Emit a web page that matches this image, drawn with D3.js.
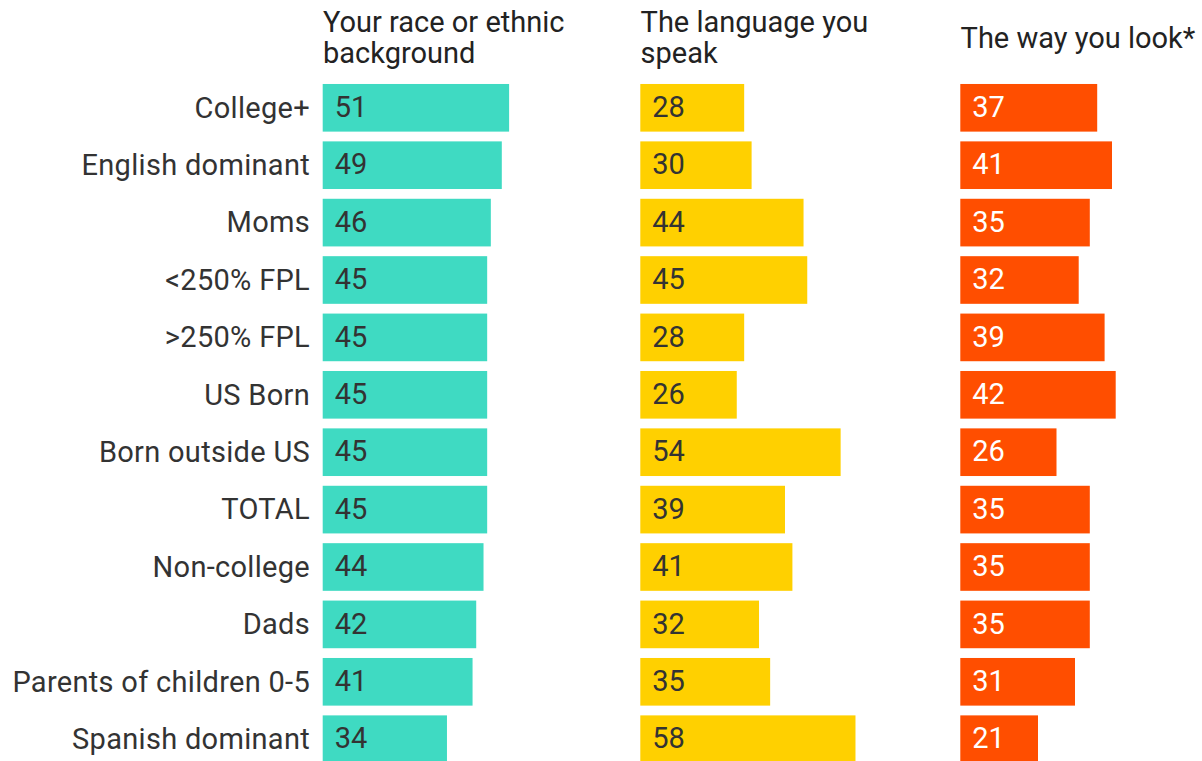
<!DOCTYPE html>
<html>
<head>
<meta charset="utf-8">
<script src="https://cdn.jsdelivr.net/npm/d3@7"></script>
<style>
  html, body { margin: 0; padding: 0; background: #fff; }
  svg { display: block; }
  text { font-family: Roboto, "Noto Sans", sans-serif; }
</style>
</head>
<body>
<svg id="chart" width="1202" height="761"></svg>
<script>
const categories = ["College+", "English dominant", "Moms", "<250% FPL", ">250% FPL", "US Born",
  "Born outside US", "TOTAL", "Non-college", "Dads", "Parents of children 0-5", "Spanish dominant"];
const raceValues = [51, 49, 46, 45, 45, 45, 45, 45, 44, 42, 41, 34];
const languageValues = [28, 30, 44, 45, 28, 26, 54, 39, 41, 32, 35, 58];
const lookValues = [37, 41, 35, 32, 39, 42, 26, 35, 35, 35, 31, 21];
const panelTitles = [["Your race or ethnic", "background"], ["The language you", "speak"], ["The way you look*"]];

const panels = [
  { title: panelTitles[0], values: raceValues, color: "#3FDAC2", textColor: "#333333", x0: 322.7, width: 365.5 },
  { title: panelTitles[1], values: languageValues, color: "#FFD000", textColor: "#333333", x0: 640.3, width: 371 },
  { title: panelTitles[2], values: lookValues, color: "#FF4E00", textColor: "#FFFFFF", x0: 960.3, width: 370 }
];

const svg = d3.select("#chart");
const fontSize = 29;

const y = d3.scaleBand()
  .domain(categories)
  .range([79.1, 767.9])
  .paddingInner(0.17)
  .paddingOuter(0.085);

// Row labels
svg.append("g")
  .selectAll("text")
  .data(categories)
  .join("text")
  .attr("x", 310)
  .attr("y", d => y(d) + y.bandwidth() / 2)
  .attr("dy", "0.34em")
  .attr("text-anchor", "end")
  .attr("font-size", fontSize)
  .attr("letter-spacing", 0.3)
  .attr("fill", "#333333")
  .text(d => d);

panels.forEach(p => {
  const x = d3.scaleLinear().domain([0, 100]).range([p.x0, p.x0 + p.width]);
  const g = svg.append("g");

  // Title
  const lines = p.title;
  const lineH = 31.5;
  const mid = 47.6;
  const t = g.append("text")
    .attr("font-size", fontSize)
    .attr("fill", "#222222");
  lines.forEach((ln, i) => {
    t.append("tspan")
      .attr("x", x(0) + 0.3)
      .attr("y", mid - (lines.length - 1) * lineH / 2 + i * lineH)
      .text(ln);
  });

  const rows = categories.map((c, i) => ({ c, v: p.values[i] }));

  g.selectAll("rect")
    .data(rows)
    .join("rect")
    .attr("x", x(0))
    .attr("y", d => y(d.c))
    .attr("width", d => x(d.v) - x(0))
    .attr("height", y.bandwidth())
    .attr("fill", p.color);

  g.selectAll("text.val")
    .data(rows)
    .join("text")
    .attr("class", "val")
    .attr("x", x(0) + 12)
    .attr("y", d => y(d.c) + y.bandwidth() / 2)
    .attr("dy", "0.32em")
    .attr("font-size", fontSize)
    .attr("fill", p.textColor)
    .text(d => d.v);
});
</script>
</body>
</html>
